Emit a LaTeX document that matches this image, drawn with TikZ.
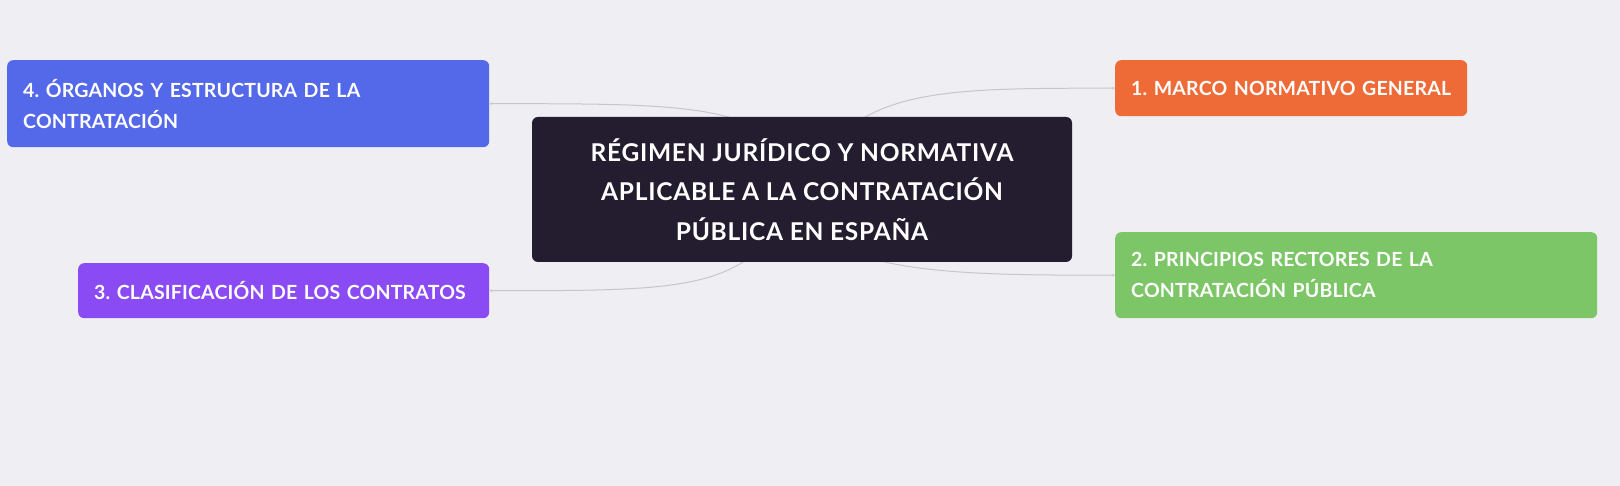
\documentclass[tikz,border=0pt]{standalone}
\usepackage{fontspec}
\setmainfont[LetterSpace=1]{Lato}
\newfontfamily\raizfont[LetterSpace=3]{Lato}
\usetikzlibrary{arrows.meta}
\definecolor{FondoMapa}{HTML}{EFEEF3}
\definecolor{ColorRaiz}{HTML}{231D2F}
\definecolor{ColorEnlace}{HTML}{C6C6CC}
\definecolor{ColorUno}{HTML}{EE6B38}
\definecolor{ColorDos}{HTML}{7DC667}
\definecolor{ColorTres}{HTML}{8A4AF4}
\definecolor{ColorCuatro}{HTML}{5468EA}
\pgfdeclarelayer{fondo}
\pgfdeclarelayer{enlaces}
\pgfsetlayers{fondo,enlaces,main}
\tikzset{
    raiz/.style={
        fill=ColorRaiz, text=white, rounded corners=6pt, align=center,
        minimum width=540pt, minimum height=145pt, inner sep=0pt,
        font=\raizfont\bfseries\fontsize{24.5}{39.5}\selectfont
    },
    tema/.style={
        anchor=north west, text=white, rounded corners=6pt, align=left,
        inner xsep=16pt, inner ysep=0pt,
        font=\bfseries\fontsize{19.5}{31}\selectfont
    },
    enlace/.style={
        draw=ColorEnlace, line width=1pt, -{Stealth[length=3pt, width=3pt]}
    }
}

\begin{document}
\frenchspacing
\begin{tikzpicture}[x=1pt, y=1pt]

\useasboundingbox (0, 0) rectangle (1620, 486);

% Fondo del mapa.
\begin{pgfonlayer}{fondo}
\fill[FondoMapa] (0, 0) rectangle (1620, 486);
\end{pgfonlayer}

% Nodo central.
\node[raiz] (R) at (802, 296.5) {R\'EGIMEN JUR\'IDICO Y NORMATIVA\\APLICABLE A LA CONTRATACI\'ON\\P\'UBLICA EN ESPA\~NA};

% Ramas del mapa.
\node[tema, fill=ColorUno, text width=320pt, minimum height=56pt] (T1) at (1115, 426) {1. MARCO NORMATIVO GENERAL};
\node[tema, fill=ColorDos, text width=450pt, minimum height=86pt] (T2) at (1115, 254) {2. PRINCIPIOS RECTORES DE LA\\CONTRATACI\'ON P\'UBLICA};
\node[tema, fill=ColorTres, text width=379pt, minimum height=55pt] (T3) at (78, 223) {3. CLASIFICACI\'ON DE LOS CONTRATOS};
\node[tema, fill=ColorCuatro, text width=450pt, minimum height=87pt] (T4) at (7, 426) {4. \'ORGANOS Y ESTRUCTURA DE LA\\CONTRATACI\'ON};

% Enlaces desde el centro, por debajo de las cajas.
\begin{pgfonlayer}{enlaces}
\draw[enlace] (R.center) .. controls +(48, 101.5) and +(-185, 0) .. (T1.west);
\draw[enlace] (R.center) .. controls +(0, -85.5) and +(-165, 0) .. (T2.west);
\draw[enlace] (R.center) .. controls +(-52, -101.5) and +(211, 0) .. (T3.east);
\draw[enlace] (R.center) .. controls +(-22, 86.5) and +(211, 0) .. (T4.east);
\end{pgfonlayer}

\end{tikzpicture}
\end{document}
